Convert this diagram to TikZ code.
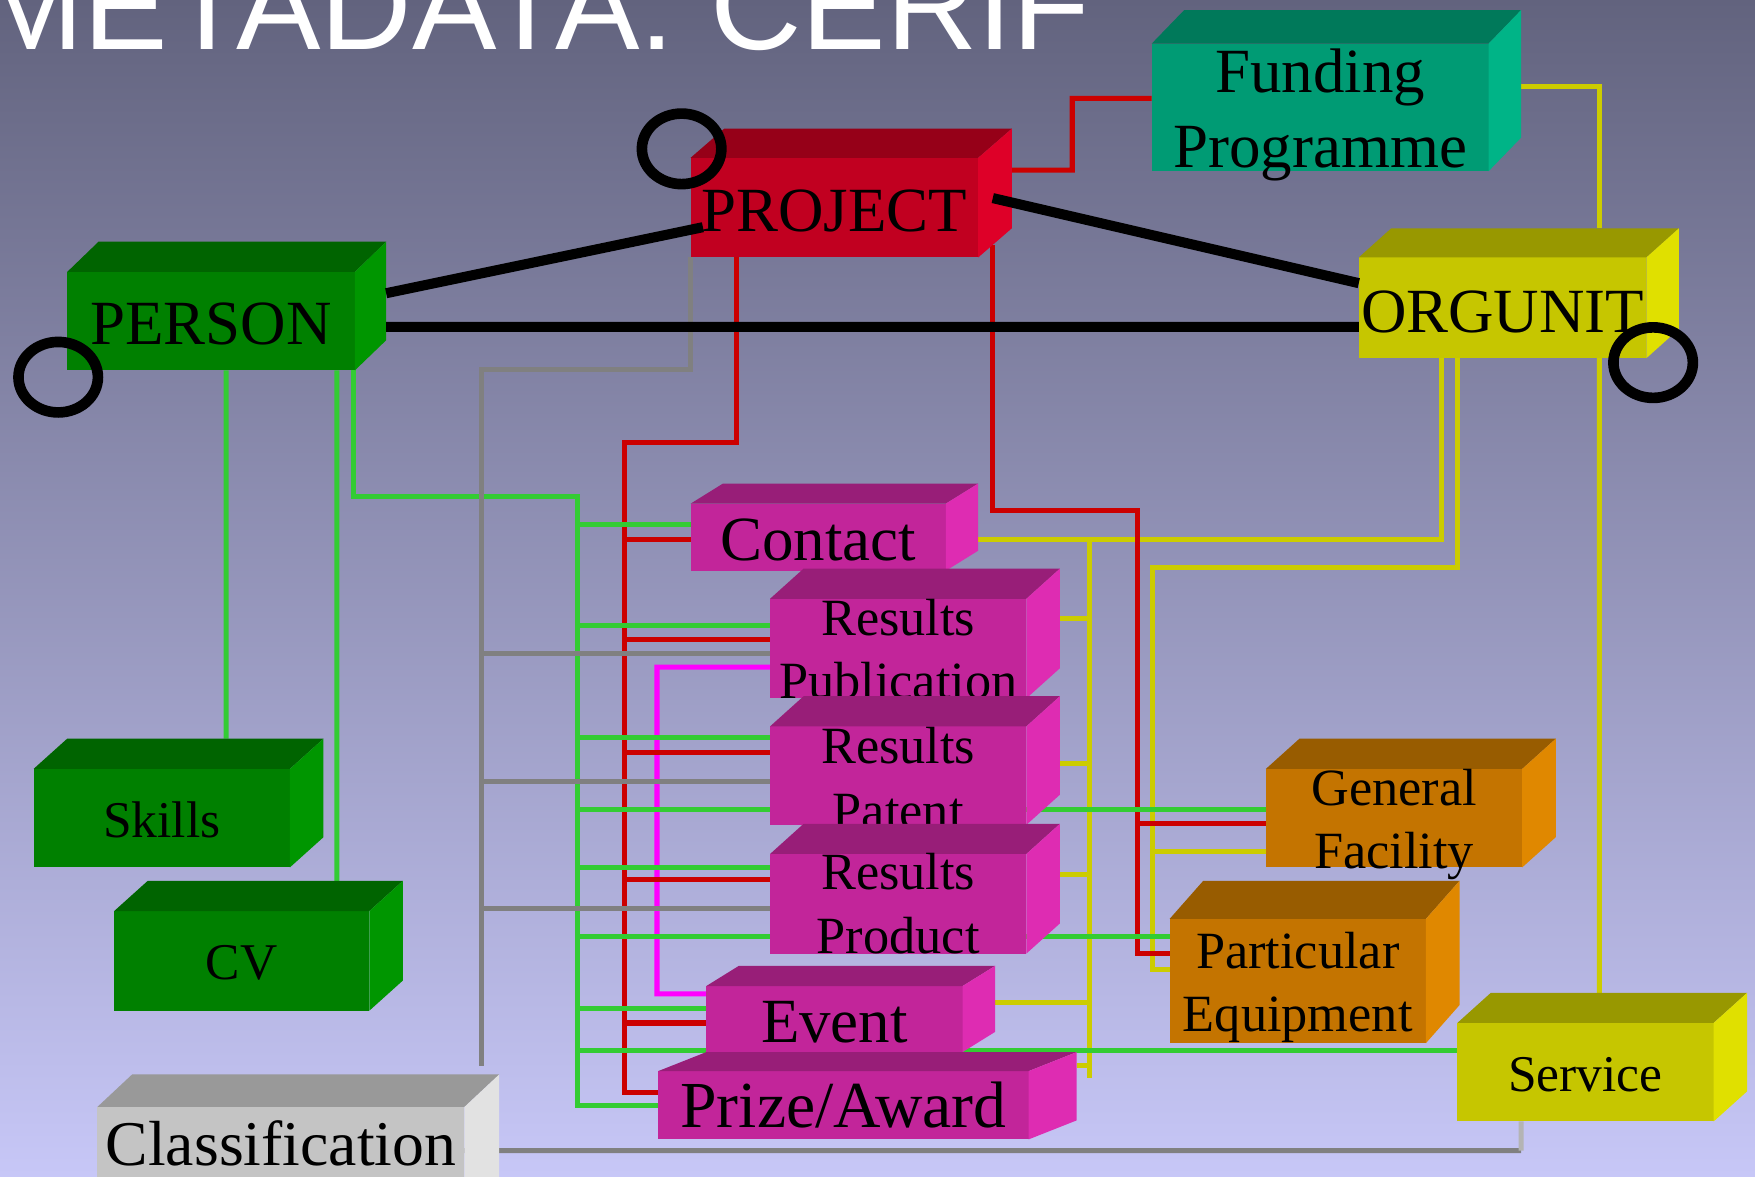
\documentclass[tikz,border=0pt]{standalone}
\usepackage{fontspec}
\setmainfont{Liberation Serif}
\newfontfamily\titlefont{Liberation Sans}

\definecolor{bgtop}{RGB}{98,99,126}
\definecolor{bgbot}{RGB}{199,199,247}
\definecolor{grfront}{RGB}{0,128,0}
\definecolor{grtop}{RGB}{0,100,0}
\definecolor{grside}{RGB}{0,150,0}
\definecolor{rdfront}{RGB}{193,0,32}
\definecolor{rdtop}{RGB}{150,0,24}
\definecolor{rdside}{RGB}{222,0,40}
\definecolor{tlfront}{RGB}{0,155,116}
\definecolor{tltop}{RGB}{0,121,90}
\definecolor{tlside}{RGB}{0,180,135}
\definecolor{ylfront}{RGB}{198,198,0}
\definecolor{yltop}{RGB}{152,152,0}
\definecolor{ylside}{RGB}{224,224,0}
\definecolor{mgfront}{RGB}{194,37,154}
\definecolor{mgtop}{RGB}{152,30,120}
\definecolor{mgside}{RGB}{222,44,178}
\definecolor{orfront}{RGB}{196,116,0}
\definecolor{ortop}{RGB}{152,92,0}
\definecolor{orside}{RGB}{224,136,0}
\definecolor{gyfront}{RGB}{196,196,196}
\definecolor{gytop}{RGB}{153,153,153}
\definecolor{gyside}{RGB}{226,226,226}
\definecolor{lgreen}{RGB}{51,204,51}
\definecolor{lred}{RGB}{204,0,0}
\definecolor{lyellow}{RGB}{204,204,0}
\definecolor{lgray}{RGB}{128,128,128}
\definecolor{lpale}{RGB}{180,180,180}
\definecolor{lmag}{RGB}{255,0,255}

\pgfdeclarelayer{bg}
\pgfdeclarelayer{wires}
\pgfsetlayers{bg,wires,main}

\tikzset{
  box/.style={rectangle, anchor=north west, inner sep=0pt, outer sep=0pt},
  lblA/.style={anchor=base, inner sep=0pt, font=\fontsize{16}{19}\selectfont},
  lblB/.style={anchor=base, inner sep=0pt, font=\fontsize{13.3}{16}\selectfont},
  lblC/.style={anchor=base, inner sep=0pt, font=\fontsize{13.1}{16}\selectfont},
  wire/.style={line width=0.45mm},
  gline/.style={wire, draw=lgreen},
  rline/.style={wire, draw=lred},
  yline/.style={wire, draw=lyellow},
  kline/.style={wire, draw=lgray},
  pline/.style={wire, draw=lpale},
  mline/.style={wire, draw=lmag},
  bline/.style={line width=0.9mm, draw=black},
  ring/.style={line width=0.95mm, draw=black}
}

\begin{document}
\begin{tikzpicture}[x=0.1mm, y=-0.1mm]

    \useasboundingbox (0,0) rectangle (1568,1051);

    \begin{pgfonlayer}{bg}
    \shade[top color=bgtop, bottom color=bgbot] (0,0) rectangle (1568,1051);
    \node[anchor=base west, inner sep=0pt, text=white,
          font=\titlefont\fontsize{32.2}{38}\selectfont] (title) at (-20,44) {METADATA: CERIF};
    \end{pgfonlayer}

    % bends of the connectors
    \coordinate (sk) at (202,660);
    \coordinate (cvt) at (301,800);
    \coordinate (gb) at (516,444);
    \coordinate (rb) at (558,395);
    \coordinate (rf) at (958,88);
    \coordinate (rc) at (1016,456);
    \coordinate (yc) at (1030,507);
    \coordinate (yb) at (973,482);
    \coordinate (yb2) at (973,963);
    \coordinate (gyb) at (430,330);
    \coordinate (gye) at (430,952);
    \coordinate (gs) at (1359,1028);
    \coordinate (mg) at (587,888);

    % PERSON
    \node[box, fill=grfront, minimum width=25.7mm, minimum height=8.8mm] (person) at (60,243) {};
    \fill[grtop] (person.north west) -- ++(28,-27) -- ([shift={(28,-27)}]person.north east) -- (person.north east) -- cycle;
    \fill[grside] (person.north east) -- ++(28,-27) -- ([shift={(28,-27)}]person.south east) -- (person.south east) -- cycle;
    \node[lblA] (person-t) at ([yshift=-2.1mm]person.center) {PERSON};

    % PROJECT
    \node[box, fill=rdfront, minimum width=25.7mm, minimum height=8.9mm] (project) at (617,141) {};
    \fill[rdtop] (project.north west) -- ++(30,-26) -- ([shift={(30,-26)}]project.north east) -- (project.north east) -- cycle;
    \fill[rdside] (project.north east) -- ++(30,-26) -- ([shift={(30,-26)}]project.south east) -- (project.south east) -- cycle;
    \node[lblA] (project-t) at ([yshift=-2.15mm]project.center) {PROJECT};

    % Funding Programme
    \node[box, fill=tlfront, minimum width=30.1mm, minimum height=11.4mm] (fund) at (1029,39) {};
    \fill[tltop] (fund.north west) -- ++(29,-30) -- ([shift={(29,-30)}]fund.north east) -- (fund.north east) -- cycle;
    \fill[tlside] (fund.north east) -- ++(29,-30) -- ([shift={(29,-30)}]fund.south east) -- (fund.south east) -- cycle;
    \node[lblA] (fund-t1) at ([yshift=1.3mm]fund.center) {Funding};
    \node[lblA] (fund-t2) at ([yshift=-5.4mm]fund.center) {Programme};

    % ORGUNIT
    \node[box, fill=ylfront, minimum width=25.7mm, minimum height=9mm] (orgunit) at (1214,230) {};
    \fill[yltop] (orgunit.north west) -- ++(29,-26) -- ([shift={(29,-26)}]orgunit.north east) -- (orgunit.north east) -- cycle;
    \fill[ylside] (orgunit.north east) -- ++(29,-26) -- ([shift={(29,-26)}]orgunit.south east) -- (orgunit.south east) -- cycle;
    \node[lblA] (orgunit-t) at ([yshift=-2.2mm]orgunit.center) {ORGUNIT};

    % Skills
    \node[box, fill=grfront, minimum width=22.9mm, minimum height=8.8mm] (skills) at (30,687) {};
    \fill[grtop] (skills.north west) -- ++(30,-27) -- ([shift={(30,-27)}]skills.north east) -- (skills.north east) -- cycle;
    \fill[grside] (skills.north east) -- ++(30,-27) -- ([shift={(30,-27)}]skills.south east) -- (skills.south east) -- cycle;
    \node[lblC] (skills-t) at ([yshift=-1.7mm]skills.center) {Skills};

    % CV
    \node[box, fill=grfront, minimum width=22.8mm, minimum height=8.9mm] (cv) at (102,814) {};
    \fill[grtop] (cv.north west) -- ++(30,-27) -- ([shift={(30,-27)}]cv.north east) -- (cv.north east) -- cycle;
    \fill[grside] (cv.north east) -- ++(30,-27) -- ([shift={(30,-27)}]cv.south east) -- (cv.south east) -- cycle;
    \node[lblC] (cv-t) at ([yshift=-1.65mm]cv.center) {CV};

    % Classification
    \node[box, fill=gyfront, minimum width=32.8mm, minimum height=10.1mm] (classif) at (87,989) {};
    \fill[gytop] (classif.north west) -- ++(31,-29) -- ([shift={(31,-29)}]classif.north east) -- (classif.north east) -- cycle;
    \fill[gyside] (classif.north east) -- ++(31,-29) -- ([shift={(31,-29)}]classif.south east) -- (classif.south east) -- cycle;
    \node[anchor=base, inner sep=0pt, font=\fontsize{16.2}{19}\selectfont] (classif-t) at ([yshift=-0.15mm]classif.center) {Classification};

    % Contact
    \node[box, fill=mgfront, minimum width=22.8mm, minimum height=6mm] (contact) at (617,450) {};
    \fill[mgtop] (contact.north west) -- ++(29,-18) -- ([shift={(29,-18)}]contact.north east) -- (contact.north east) -- cycle;
    \fill[mgside] (contact.north east) -- ++(29,-18) -- ([shift={(29,-18)}]contact.south east) -- (contact.south east) -- cycle;
    \node[lblA] (contact-t) at ([yshift=-2.1mm]contact.center) {Contact};

    % Results Publication
    \node[box, fill=mgfront, minimum width=22.9mm, minimum height=8.9mm] (rpub) at (688,535) {};
    \fill[mgtop] (rpub.north west) -- ++(30,-27) -- ([shift={(30,-27)}]rpub.north east) -- (rpub.north east) -- cycle;
    \fill[mgside] (rpub.north east) -- ++(30,-27) -- ([shift={(30,-27)}]rpub.south east) -- (rpub.south east) -- cycle;
    \begin{scope}
    \clip (rpub.south west) rectangle (rpub.north east);
    \node[lblB] (rpub-t1) at ([yshift=1.15mm]rpub.center) {Results};
    \node[lblB] (rpub-t2) at ([yshift=-4.45mm]rpub.center) {Publication};
    \end{scope}

    % Results Patent
    \node[box, fill=mgfront, minimum width=22.9mm, minimum height=8.8mm] (rpat) at (688,649) {};
    \fill[mgtop] (rpat.north west) -- ++(30,-27) -- ([shift={(30,-27)}]rpat.north east) -- (rpat.north east) -- cycle;
    \fill[mgside] (rpat.north east) -- ++(30,-27) -- ([shift={(30,-27)}]rpat.south east) -- (rpat.south east) -- cycle;
    \begin{scope}
    \clip (rpat.south west) rectangle (rpat.north east);
    \node[lblB] (rpat-t1) at ([yshift=1.1mm]rpat.center) {Results};
    \node[lblB] (rpat-t2) at ([yshift=-4.7mm]rpat.center) {Patent};
    \end{scope}

    % Results Product
    \node[box, fill=mgfront, minimum width=22.9mm, minimum height=8.9mm] (rprod) at (688,763) {};
    \fill[mgtop] (rprod.north west) -- ++(30,-27) -- ([shift={(30,-27)}]rprod.north east) -- (rprod.north east) -- cycle;
    \fill[mgside] (rprod.north east) -- ++(30,-27) -- ([shift={(30,-27)}]rprod.south east) -- (rprod.south east) -- cycle;
    \node[lblB] (rprod-t1) at ([yshift=1.25mm]rprod.center) {Results};
    \node[lblB] (rprod-t2) at ([yshift=-4.45mm]rprod.center) {Product};

    % Event
    \node[box, fill=mgfront, minimum width=22.9mm, minimum height=5.9mm] (event) at (631,881) {};
    \fill[mgtop] (event.north west) -- ++(29,-18) -- ([shift={(29,-18)}]event.north east) -- (event.north east) -- cycle;
    \fill[mgside] (event.north east) -- ++(29,-18) -- ([shift={(29,-18)}]event.south east) -- (event.south east) -- cycle;
    \node[lblA] (event-t) at ([yshift=-2.05mm]event.center) {Event};

    % Prize/Award
    \node[box, fill=mgfront, minimum width=33.1mm, minimum height=6.1mm] (prize) at (588,957) {};
    \fill[mgtop] (prize.north west) -- ++(43,-17) -- ([shift={(43,-17)}]prize.north east) -- (prize.north east) -- cycle;
    \fill[mgside] (prize.north east) -- ++(43,-17) -- ([shift={(43,-17)}]prize.south east) -- (prize.south east) -- cycle;
    \node[anchor=base, inner sep=0pt, font=\fontsize{16.7}{19}\selectfont] (prize-t) at ([yshift=-1.95mm]prize.center) {Prize/Award};

    % General Facility
    \node[box, fill=orfront, minimum width=22.9mm, minimum height=8.8mm] (genfac) at (1131,687) {};
    \fill[ortop] (genfac.north west) -- ++(30,-27) -- ([shift={(30,-27)}]genfac.north east) -- (genfac.north east) -- cycle;
    \fill[orside] (genfac.north east) -- ++(30,-27) -- ([shift={(30,-27)}]genfac.south east) -- (genfac.south east) -- cycle;
    \node[lblB] (genfac-t1) at ([yshift=1.1mm]genfac.center) {General};
    \node[lblB] (genfac-t2) at ([yshift=-4.5mm]genfac.center) {Facility};

    % Particular Equipment
    \node[box, fill=orfront, minimum width=22.9mm, minimum height=11.1mm] (pareq) at (1045,821) {};
    \fill[ortop] (pareq.north west) -- ++(30,-34) -- ([shift={(30,-34)}]pareq.north east) -- (pareq.north east) -- cycle;
    \fill[orside] (pareq.north east) -- ++(30,-34) -- ([shift={(30,-34)}]pareq.south east) -- (pareq.south east) -- cycle;
    \node[lblB] (pareq-t1) at ([yshift=1.15mm]pareq.center) {Particular};
    \node[lblB] (pareq-t2) at ([yshift=-4.55mm]pareq.center) {Equipment};

    % Service
    \node[box, fill=ylfront, minimum width=22.9mm, minimum height=8.8mm] (service) at (1302,914) {};
    \fill[yltop] (service.north west) -- ++(30,-27) -- ([shift={(30,-27)}]service.north east) -- (service.north east) -- cycle;
    \fill[ylside] (service.north east) -- ++(30,-27) -- ([shift={(30,-27)}]service.south east) -- (service.south east) -- cycle;
    \node[lblC] (service-t) at ([yshift=-1.7mm]service.center) {Service};

    \begin{pgfonlayer}{wires}
    % magenta
    \draw[mline] ([yshift=-1.65mm]rpub.west) -| (mg) -- ([yshift=2.25mm]event.west);
    % yellow
    \draw[yline] ([shift={(29,-19)}]fund.east) -| ([shift={(86.5,-26)}]orgunit.north);
    \draw[yline] ([xshift=8.65mm]orgunit.south) -- ([shift={(12.5,-27)}]service.north);
    \draw[yline] ([xshift=-5.45mm]orgunit.south) |- ([shift={(29,2)}]contact.east);
    \draw[yline] ([xshift=-4.05mm]orgunit.south) |- (yc) |- ([yshift=1.05mm]pareq.west);
    \draw[yline] ([yshift=-3mm]genfac.west) -| (yc);
    \draw[yline] (yb) -- (yb2);
    \draw[yline] ([shift={(30,-26.5)}]rpub.east) -| (yb);
    \draw[yline] ([shift={(30,-11)}]rpat.east) -| (yb);
    \draw[yline] ([shift={(30,-26.5)}]rprod.east) -| (yb);
    \draw[yline] ([shift={(29,-14.5)}]event.east) -| (yb);
    \draw[yline] ([shift={(43,-35.5)}]prize.east) -| (yb);
    % red
    \draw[rline] ([shift={(30,-33.5)}]project.east) -| (rf) -- ([yshift=0.8mm]fund.west);
    \draw[rline] ([xshift=-8.75mm]project.south) |- (rb) |- ([yshift=1.15mm]prize.west);
    \draw[rline] ([yshift=-0.2mm]contact.west) -| (rb);
    \draw[rline] ([yshift=0.85mm]rpub.west) -| (rb);
    \draw[rline] ([yshift=2.1mm]rpat.west) -| (rb);
    \draw[rline] ([yshift=2.15mm]rprod.west) -| (rb);
    \draw[rline] ([yshift=-0.35mm]event.west) -| (rb);
    \draw[rline] ([shift={(13,33)}]project.east) |- (rc) |- ([yshift=2.45mm]pareq.west);
    \draw[rline] ([yshift=-0.5mm]genfac.west) -| (rc);
    % green
    \draw[gline] ([xshift=1.35mm]person.south) -- (sk);
    \draw[gline] ([xshift=11.25mm]person.south) -- (cvt);
    \draw[gline] ([xshift=12.75mm]person.south) |- (gb) |- (prize.west);
    \draw[gline] ([yshift=1.1mm]contact.west) -| (gb);
    \draw[gline] ([yshift=2.05mm]rpub.west) -| (gb);
    \draw[gline] ([yshift=3.4mm]rpat.west) -| (gb);
    \draw[gline] ([yshift=0.8mm]genfac.west) -| (gb);
    \draw[gline] ([yshift=3.25mm]rprod.west) -| (gb);
    \draw[gline] ([yshift=3.95mm]pareq.west) -| (gb);
    \draw[gline] ([yshift=0.95mm]event.west) -| (gb);
    \draw[gline] ([yshift=1.9mm]service.west) -| (gb);
    % gray
    \draw[kline] (project.south west) |- (gyb) -- (gye);
    \draw[kline] ([yshift=-0.45mm]rpub.west) -| (gyb);
    \draw[kline] ([yshift=-0.5mm]rpat.west) -| (gyb);
    \draw[kline] ([yshift=-0.45mm]rprod.west) -| (gyb);
    \draw[kline] ([yshift=1.15mm]classif.east) -- (gs);
    \draw[pline] (gs) -- ([xshift=-5.75mm]service.south);
    \end{pgfonlayer}

    % main relations
    \draw[bline] ([shift={(28,-25)}]person.east) -- ([shift={(11,17.5)}]project.west);
    \draw[bline] ([shift={(13,-8.5)}]project.east) -- ([yshift=2.2mm]orgunit.west);
    \draw[bline] ([shift={(28,5)}]person.east) -- ([yshift=-1.7mm]orgunit.west);

    % recursive links
    \draw[ring] ([shift={(-8,-8)}]project.north west) ellipse [x radius=3.55mm, y radius=3.15mm];
    \draw[ring] ([shift={(-8,6)}]person.south west) ellipse [x radius=3.55mm, y radius=3.15mm];
    \draw[ring] ([shift={(6,4)}]orgunit.south east) ellipse [x radius=3.55mm, y radius=3.15mm];

\end{tikzpicture}
\end{document}
